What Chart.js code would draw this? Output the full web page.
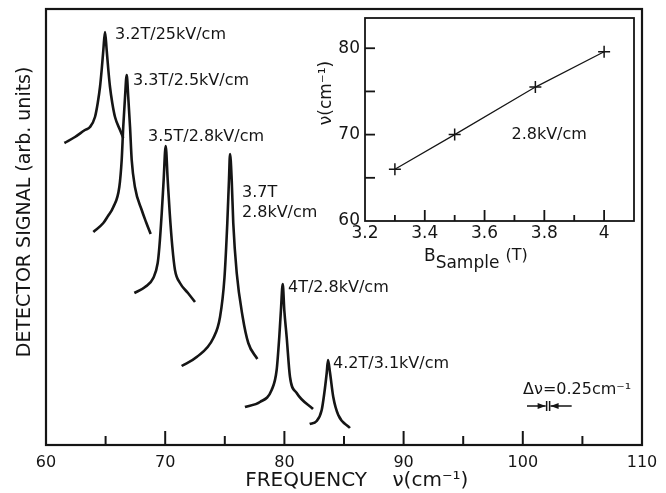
<!DOCTYPE html>
<html>
<head>
<meta charset="utf-8">
<script src="https://cdn.jsdelivr.net/npm/chart.js@4.4.1/dist/chart.umd.min.js"></script>
<style>
  html, body { margin: 0; padding: 0; background: #fff; }
  #wrap { position: relative; width: 666px; height: 493px; }
  #main { position: absolute; left: 0; top: 0; }
  #inset { position: absolute; left: 300px; top: 0; }
</style>
</head>
<body>
<div id="wrap">
  <canvas id="main" width="666" height="493"></canvas>
  <canvas id="inset" width="350" height="290"></canvas>
</div>
<script>
// spectra, frequency in cm^-1 and signal in arbitrary units
const peak32x = [61.54, 62.43, 63.27, 63.69, 64.11, 64.34, 64.53, 64.67, 64.81, 64.95, 65.09, 65.23, 65.37, 65.56, 65.79, 66.21, 66.48];
const peak32y = [302, 308, 315, 318, 328, 342, 358, 375, 395, 413, 395, 375, 358, 342, 328, 315, 307];
const peak33x = [63.97, 64.81, 65.20, 65.65, 66.15, 66.35, 66.48, 66.63, 66.77, 66.90, 67.05, 67.19, 67.46, 68.03, 68.39, 68.78];
const peak33y = [213, 222, 229, 238, 258, 285, 318, 348, 370, 348, 318, 285, 258, 235, 223, 211];
const peak35x = [67.41, 68.31, 69.00, 69.37, 69.51, 69.71, 69.87, 70.04, 70.21, 70.38, 70.60, 70.82, 71.24, 71.91, 72.50];
const peak35y = [152, 158, 167, 182, 198, 232, 265, 299, 265, 232, 198, 175, 162, 152, 143];
const peak37x = [71.38, 72.64, 74.04, 74.60, 74.97, 75.21, 75.35, 75.44, 75.58, 75.71, 76.00, 76.50, 76.97, 77.73];
const peak37y = [79, 88, 107, 128, 167, 222, 265, 291, 265, 222, 172, 128, 102, 86];
const peak40x = [76.69, 77.95, 78.93, 79.35, 79.57, 79.71, 79.86, 79.99, 80.19, 80.47, 81.03, 82.40];
const peak40y = [38, 43, 55, 75, 108, 135, 161, 135, 108, 68, 52, 36];
const peak42x = [82.12, 82.71, 83.13, 83.35, 83.55, 83.66, 83.83, 84.10, 84.52, 85.50];
const peak42y = [21, 24, 35, 52, 72, 85, 72, 48, 30, 17];

const freqTicks = [60, 70, 80, 90, 100, 110];
const freqMajor = [70, 80, 90, 100];
const freqMinor = [65, 75, 85, 95, 105];

const peakLabels = ['3.2T/25kV/cm', '3.3T/2.5kV/cm', '3.5T/2.8kV/cm', '3.7T', '2.8kV/cm', '4T/2.8kV/cm', '4.2T/3.1kV/cm'];
const peakLabelX = [65.79, 67.30, 68.56, 76.44, 76.44, 80.30, 84.08];
const peakLabelY = [410, 364, 308, 252, 232, 157, 81];

// inset: line position vs field
const bField = [3.3, 3.5, 3.77, 4.0];
const lineFreq = [66.0, 70.0, 75.5, 79.6];
const bTicks = [3.2, 3.4, 3.6, 3.8, 4];
const bMajor = [3.4, 3.6, 3.8, 4.0];
const bMinor = [3.3, 3.5, 3.7, 3.9];
const nuTicks = [60, 70, 80];
const nuMarks = [65, 70, 75, 80];

const ink = '#151515';
const fam = '"DejaVu Sans", sans-serif';

const toPts = (xs, ys) => xs.map((x, i) => ({ x: x, y: ys[i] }));
const spectra = [
  toPts(peak32x, peak32y), toPts(peak33x, peak33y), toPts(peak35x, peak35y),
  toPts(peak37x, peak37y), toPts(peak40x, peak40y), toPts(peak42x, peak42y)
];

const frame = {
  id: 'frame',
  afterDraw(chart, args, opts) {
    const { ctx, chartArea: a } = chart;
    ctx.save();
    ctx.strokeStyle = ink;
    ctx.lineWidth = opts.width || 2;
    ctx.strokeRect(a.left, a.top, a.right - a.left, a.bottom - a.top);
    ctx.restore();
  }
};

// inward tick marks
function drawTicksX(chart, scaleId, values, len) {
  const { ctx, chartArea: a } = chart;
  const s = chart.scales[scaleId];
  values.forEach(v => {
    const px = s.getPixelForValue(v);
    ctx.beginPath();
    ctx.moveTo(px, a.bottom);
    ctx.lineTo(px, a.bottom - len);
    ctx.stroke();
  });
}
function drawTicksY(chart, scaleId, values, len) {
  const { ctx, chartArea: a } = chart;
  const s = chart.scales[scaleId];
  values.forEach(v => {
    const py = s.getPixelForValue(v);
    ctx.beginPath();
    ctx.moveTo(a.left, py);
    ctx.lineTo(a.left + len, py);
    ctx.stroke();
  });
}

const mainDecor = {
  id: 'mainDecor',
  afterDraw(chart) {
    const { ctx } = chart;
    const xs = chart.scales.x, ys = chart.scales.y;
    ctx.save();
    ctx.strokeStyle = ink;
    ctx.fillStyle = ink;
    ctx.lineWidth = 2;
    drawTicksX(chart, 'x', freqMajor, 14);
    drawTicksX(chart, 'x', freqMinor, 9);

    ctx.font = '16px ' + fam;
    ctx.textAlign = 'left';
    ctx.textBaseline = 'middle';
    peakLabels.forEach((t, i) => {
      ctx.fillText(t, xs.getPixelForValue(peakLabelX[i]), ys.getPixelForValue(peakLabelY[i]));
    });

    // resolution marker
    ctx.fillText('\u0394\u03bd=0.25cm\u207b\u00b9', xs.getPixelForValue(100.02), ys.getPixelForValue(55));
    const my = ys.getPixelForValue(39);
    const b1 = xs.getPixelForValue(102.0), b2 = xs.getPixelForValue(102.25);
    const l0 = xs.getPixelForValue(100.35), r0 = xs.getPixelForValue(104.1);
    ctx.lineWidth = 1.5;
    ctx.beginPath();
    ctx.moveTo(l0, my); ctx.lineTo(b1 - 1, my);
    ctx.moveTo(b2 + 1, my); ctx.lineTo(r0, my);
    ctx.moveTo(b1, my - 5); ctx.lineTo(b1, my + 5);
    ctx.moveTo(b2, my - 5); ctx.lineTo(b2, my + 5);
    ctx.stroke();
    ctx.beginPath();
    ctx.moveTo(b1 - 1, my); ctx.lineTo(b1 - 9, my - 3); ctx.lineTo(b1 - 9, my + 3); ctx.closePath();
    ctx.moveTo(b2 + 1, my); ctx.lineTo(b2 + 9, my - 3); ctx.lineTo(b2 + 9, my + 3); ctx.closePath();
    ctx.fill();
    ctx.restore();
  }
};

new Chart(document.getElementById('main'), {
  type: 'line',
  data: {
    datasets: spectra.map(d => ({
      data: d,
      borderColor: ink,
      borderWidth: 2.6,
      pointRadius: 0,
      cubicInterpolationMode: 'monotone',
      fill: false
    }))
  },
  options: {
    responsive: false,
    animation: false,
    layout: { padding: { top: 9, right: 24, left: 0, bottom: 0 } },
    plugins: { legend: { display: false }, tooltip: { enabled: false }, frame: { width: 2.2 } },
    scales: {
      x: {
        type: 'linear', min: 60, max: 110,
        grid: { display: false, drawTicks: false },
        border: { display: false },
        afterBuildTicks: s => { s.ticks = freqTicks.map(v => ({ value: v })); },
        afterFit: s => { s.height = 48; },
        ticks: { color: ink, font: { family: fam, size: 16 }, padding: 8, maxRotation: 0, autoSkip: false },
        title: {
          display: true,
          text: '    FREQUENCY    \u03bd(cm\u207b\u00b9)',
          color: ink,
          font: { family: fam, size: 20 },
          padding: { top: 0, bottom: 0 }
        }
      },
      y: {
        type: 'linear', min: 0, max: 436,
        grid: { display: false, drawTicks: false },
        border: { display: false },
        ticks: { display: false },
        afterFit: s => { s.width = 46; },
        title: {
          display: true,
          text: '     DETECTOR SIGNAL (arb. units)',
          color: ink,
          font: { family: fam, size: 19 },
          padding: { top: 14, bottom: 0 }
        }
      }
    }
  },
  plugins: [frame, mainDecor]
});

const insetDecor = {
  id: 'insetDecor',
  afterDraw(chart) {
    const { ctx, chartArea: a } = chart;
    ctx.save();
    ctx.strokeStyle = ink;
    ctx.fillStyle = ink;
    ctx.lineWidth = 1.8;
    drawTicksX(chart, 'x', bMajor, 11);
    drawTicksX(chart, 'x', bMinor, 6);
    drawTicksY(chart, 'y', nuMarks, 10);

    ctx.font = '16px ' + fam;
    ctx.textAlign = 'left';
    ctx.textBaseline = 'middle';
    ctx.fillText('2.8kV/cm', chart.scales.x.getPixelForValue(3.69), chart.scales.y.getPixelForValue(70));

    ctx.textBaseline = 'alphabetic';
    ctx.font = '17px ' + fam;
    let x = a.left + 59;
    ctx.fillText('B', x, a.bottom + 40);
    x += ctx.measureText('B').width;
    ctx.fillText('Sample', x, a.bottom + 47);
    x += ctx.measureText('Sample').width + 6;
    ctx.font = '16px ' + fam;
    ctx.fillText('(T)', x, a.bottom + 39);

    ctx.translate(a.left - 38, a.top + 75);
    ctx.rotate(-Math.PI / 2);
    ctx.textAlign = 'center';
    ctx.textBaseline = 'middle';
    ctx.font = '17px ' + fam;
    ctx.fillText('\u03bd(cm\u207b\u00b9)', 0, 0);
    ctx.restore();
  }
};

new Chart(document.getElementById('inset'), {
  type: 'line',
  data: {
    datasets: [{
      data: toPts(bField, lineFreq),
      borderColor: ink,
      borderWidth: 1.2,
      pointStyle: 'cross',
      pointRadius: 6,
      pointBorderWidth: 1.5,
      pointBorderColor: ink,
      fill: false,
      tension: 0
    }]
  },
  options: {
    responsive: false,
    animation: false,
    layout: { padding: { top: 18, right: 16, left: 0, bottom: 0 } },
    plugins: { legend: { display: false }, tooltip: { enabled: false }, frame: { width: 1.8 } },
    scales: {
      x: {
        type: 'linear', min: 3.2, max: 4.1,
        grid: { display: false, drawTicks: false },
        border: { display: false },
        afterBuildTicks: s => { s.ticks = bTicks.map(v => ({ value: v })); },
        afterFit: s => { s.height = 69; },
        ticks: {
          color: ink, font: { family: fam, size: 17 }, padding: 2, maxRotation: 0, autoSkip: false,
          callback: v => String(v)
        }
      },
      y: {
        type: 'linear', min: 60, max: 83.5,
        grid: { display: false, drawTicks: false },
        border: { display: false },
        afterBuildTicks: s => { s.ticks = nuTicks.map(v => ({ value: v })); },
        afterFit: s => { s.width = 65; },
        ticks: { color: ink, font: { family: fam, size: 17 }, padding: 5 }
      }
    }
  },
  plugins: [frame, insetDecor]
});
</script>
</body>
</html>
